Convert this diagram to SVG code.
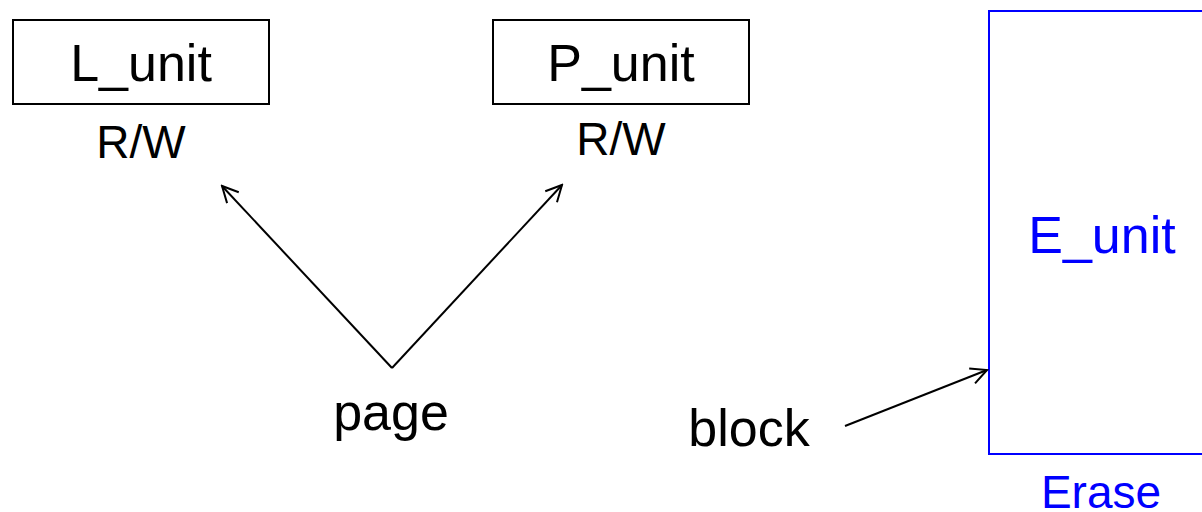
<svg xmlns="http://www.w3.org/2000/svg" width="1202" height="512" viewBox="0 0 1202 512">
<style>
text{font-family:"Liberation Sans",Arial,sans-serif;text-anchor:middle}
.big{font-size:52px}
.mid{font-size:46px}
.box{fill:none;stroke:#000;stroke-width:2}
.bbox{fill:none;stroke:#0000FF;stroke-width:2}
.conn{fill:none;stroke:#000;stroke-width:2}
.blue{fill:#0000FF}
</style>
<defs>
<marker id="arr" viewBox="0 0 20 20" refX="18" refY="10" markerWidth="20" markerHeight="20" markerUnits="userSpaceOnUse" orient="auto">
<path d="M2,2 L18,10 L2,18" fill="none" stroke="#000" stroke-width="2"/>
</marker>
</defs>
<rect width="1202" height="512" fill="#fff"/>
<g id="L_unit">
<rect class="box" x="13" y="20" width="256" height="84"/>
<text class="big" x="141" y="81">L_unit</text>
<text class="mid" x="141" y="158">R/W</text>
</g>
<g id="P_unit">
<rect class="box" x="493" y="20" width="256" height="84"/>
<text class="big" x="621" y="81">P_unit</text>
<text class="mid" x="621" y="155">R/W</text>
</g>
<g id="E_unit">
<rect class="bbox" x="989" y="11" width="240" height="443"/>
<text class="big blue" x="1102" y="253">E_unit</text>
<text class="mid blue" x="1101" y="508">Erase</text>
</g>
<g id="page">
<text class="big" x="391" y="430">page</text>
</g>
<g id="block">
<text class="big" x="749" y="446">block</text>
</g>
<g id="connectors">
<line class="conn" x1="392" y1="368" x2="222" y2="186" marker-end="url(#arr)"/>
<line class="conn" x1="392" y1="368" x2="562" y2="185" marker-end="url(#arr)"/>
<line class="conn" x1="845" y1="426" x2="987" y2="370" marker-end="url(#arr)"/>
</g>
</svg>
